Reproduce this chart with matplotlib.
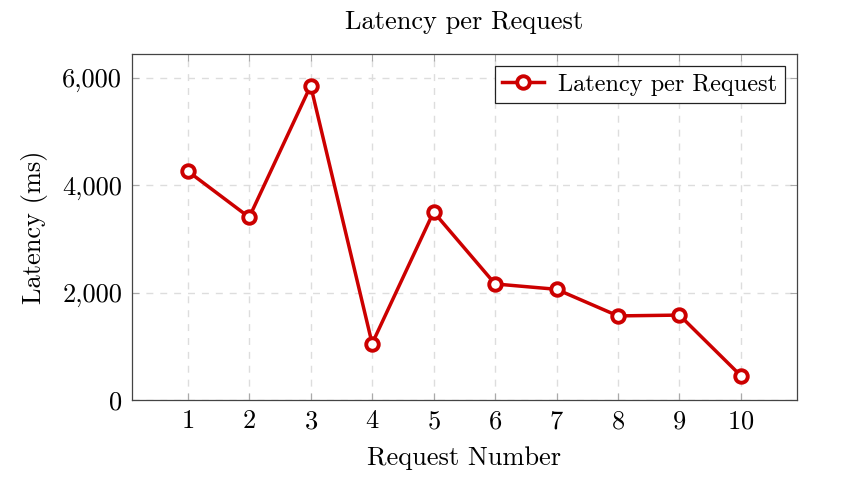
import matplotlib
matplotlib.use("Agg")
import matplotlib.pyplot as plt
from matplotlib.ticker import FuncFormatter

# data
requests = [1, 2, 3, 4, 5, 6, 7, 8, 9, 10]
latency = [4260, 3400, 5850, 1050, 3500, 2160, 2060, 1565, 1580, 450]

plt.rcParams['font.family'] = ['cmr10', 'DejaVu Serif']
plt.rcParams['mathtext.fontset'] = 'cm'
plt.rcParams['axes.formatter.use_mathtext'] = True

fig = plt.figure(figsize=(8.45, 4.8), dpi=100)
ax = fig.add_axes([0.156, 0.1667, 0.787, 0.7208])

ax.plot(requests, latency, color='#cc0000', linewidth=2.5, marker='o',
        markersize=9, markerfacecolor='white', markeredgewidth=2.8,
        label='Latency per Request')

ax.set_xlim(0.09, 10.91)
ax.set_ylim(0, 6440)
ax.set_xticks(requests)
ax.set_yticks([0, 2000, 4000, 6000])
ax.yaxis.set_major_formatter(FuncFormatter(lambda v, p: f'{int(v):,}'))

ax.grid(True, color='#dddddd', linestyle=(0, (5, 5)), linewidth=1.0)
ax.tick_params(direction='in', length=5, color='#aaaaaa', labelsize=19,
               top=True, right=True, pad=7)
for s in ax.spines.values():
    s.set_color('#444444')
    s.set_linewidth(0.9)

ax.set_xlabel('Request Number', fontsize=19, labelpad=9)
ax.set_ylabel('Latency (ms)', fontsize=19, labelpad=10)
ax.set_title('Latency per Request', fontsize=19, pad=18)

leg = ax.legend(loc='upper right', fontsize=17.5, fancybox=False,
                framealpha=1, edgecolor='#222222', borderpad=0.3,
                handlelength=1.7, handletextpad=0.6, borderaxespad=0.5)
leg.get_frame().set_linewidth(0.9)

fig.savefig('out.png', dpi=100)
